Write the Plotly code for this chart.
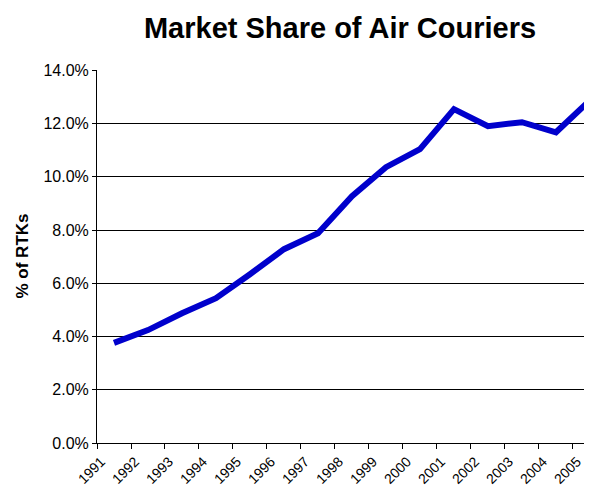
import plotly.graph_objects as go

# Market share of air couriers, share of revenue tonne-km
years = [str(y) for y in range(1991, 2006)]
share = [0.0376, 0.0424, 0.0487, 0.0544, 0.0634, 0.0728, 0.0788, 0.0927,
         0.1036, 0.1104, 0.1254, 0.1190, 0.1205, 0.1167, 0.1287]

fig = go.Figure()

fig.add_trace(go.Scatter(
    x=years,
    y=share,
    mode='lines',
    line=dict(color='#0000CC', width=6),
    showlegend=False
))

# the page body has an 8px margin, so the figure is sized to fill the rest
fig.update_layout(
    width=584,
    height=483,
    margin=dict(l=89, r=0, t=62, b=48),
    paper_bgcolor='white',
    plot_bgcolor='white',
    font=dict(family='Arial, Liberation Sans, sans-serif', color='black', size=15),
    title=dict(
        text='<b>Market Share of Air Couriers</b>',
        font=dict(size=29),
        x=0.491,
        xref='paper',
        xanchor='center',
        y=0.959,
        yref='container',
        yanchor='middle'
    ),
    xaxis=dict(
        type='category',
        range=[-0.5, 14.06],
        tickson='boundaries',
        ticks='outside',
        ticklen=5,
        tickcolor='black',
        tickangle=-45,
        ticklabelshift=-13,
        ticklabelstandoff=4,
        tickfont=dict(size=14),
        showline=True,
        linecolor='black',
        linewidth=1,
        showgrid=False,
        zeroline=False,
        automargin=False
    ),
    yaxis=dict(
        range=[0, 0.1401],
        dtick=0.02,
        tickformat='.1%',
        ticks='outside',
        ticklen=4,
        tickcolor='black',
        tickfont=dict(size=16),
        showline=True,
        linecolor='black',
        linewidth=1,
        showgrid=True,
        gridcolor='black',
        gridwidth=1,
        zeroline=False,
        automargin=False
    )
)

# Y-axis title placed as an annotation to match the reference position
fig.add_annotation(
    text='<b>% of RTKs</b>',
    textangle=-90,
    xref='paper', yref='paper',
    x=-0.1515, y=0.5,
    xanchor='center', yanchor='middle',
    showarrow=False,
    font=dict(size=17)
)

fig.write_html("out.html")
